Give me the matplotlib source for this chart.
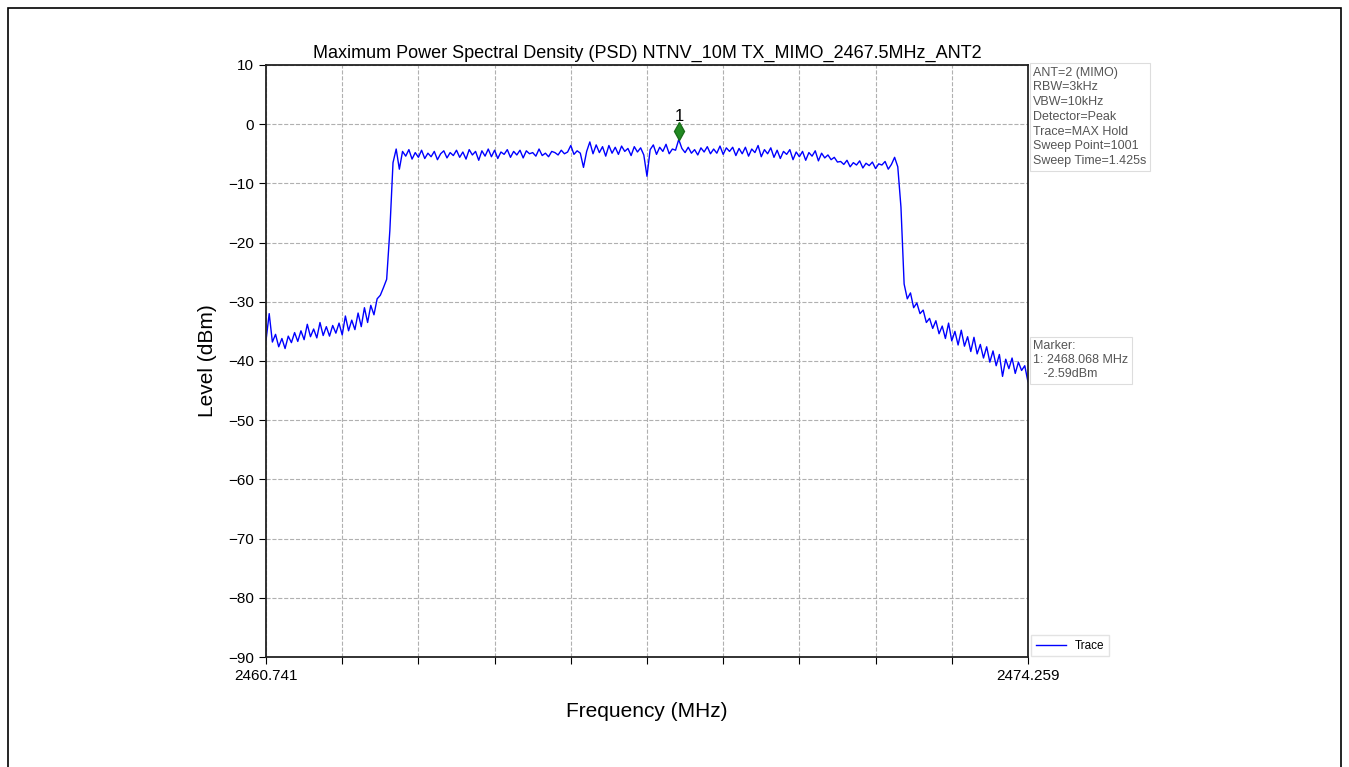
import numpy as np
import matplotlib.pyplot as plt
from matplotlib.patches import Rectangle

plt.rcParams['font.family'] = ['Liberation Sans', 'DejaVu Sans']

# Sweep span (MHz) and trace levels (dBm)
f_start = 2460.741
f_stop = 2474.259
levels = [
    # left skirt
    -36.5, -32.0, -36.8, -35.5, -37.6, -36.2, -37.9, -35.8, -36.9, -35.2,
    -36.7, -34.9, -36.4, -33.8, -35.9, -34.6, -36.1, -33.5, -35.7, -34.2,
    -35.8, -34.0, -35.3, -33.6, -35.6, -32.4, -34.9, -33.1, -34.7, -31.9,
    -34.2, -31.0, -33.5, -30.6, -32.2, -29.5, -28.9, -27.6, -26.2, -18.0,
    -6.5,
    # in-band plateau
    -4.2, -7.6, -4.6, -5.4, -4.3, -5.9, -4.8, -5.6, -4.4, -5.8,
    -4.9, -5.5, -4.6, -6.0, -5.0, -4.5, -5.7, -4.8, -5.3, -4.4,
    -5.6, -4.7, -5.9, -4.3, -5.2, -4.6, -6.1, -4.5, -5.4, -4.2,
    -5.5, -4.4, -5.8, -4.7, -5.1, -4.3, -5.6, -4.6, -5.2, -4.4,
    -5.7, -4.5, -5.0, -4.8, -5.4, -4.2, -5.3, -4.9, -5.5, -4.6,
    -4.8, -5.2, -4.4, -5.0, -4.7, -3.6, -5.1, -4.5, -4.9, -7.3,
    -4.6, -3.0, -5.0, -3.5, -4.8, -3.8, -5.4, -3.6, -4.9, -3.9,
    -5.1, -3.7, -4.6, -4.1, -5.3, -3.8, -4.7, -4.0, -5.2, -8.8,
    -4.3, -3.5, -5.1, -3.9, -4.6, -3.4, -5.0, -4.2, -4.4, -2.59,
    -4.1, -4.8, -3.9, -4.9, -4.3, -5.2, -4.0, -4.7, -3.8, -5.0,
    -4.2, -4.9, -3.7, -5.1, -4.0, -4.6, -3.9, -5.3, -4.1, -5.0,
    -3.9, -5.4, -4.2, -4.8, -3.6, -5.5, -4.3, -5.0, -4.0, -5.6,
    -4.4, -5.8, -4.6, -5.1, -4.3, -6.0, -4.7, -5.5, -4.6, -6.1,
    -4.8, -5.4, -4.5, -6.2, -4.9, -5.7, -5.2, -6.0, -5.6, -6.4,
    -6.3, -6.8, -6.1, -7.2, -6.5, -6.9, -6.2, -7.4, -6.6, -7.0,
    -6.4, -7.5, -6.7, -6.9, -6.3, -7.6, -6.8, -5.6, -7.2,
    # right skirt
    -14.0, -27.0, -29.5, -28.5, -31.0, -30.2, -32.0, -31.4, -33.5, -32.8,
    -34.5, -33.2, -35.4, -34.1, -36.2, -33.6, -36.6, -35.0, -37.3, -34.8,
    -37.5, -35.9, -38.4, -36.0, -38.8, -37.2, -39.5, -37.6, -40.2, -38.3,
    -40.8, -38.9, -42.6, -39.7, -41.3, -39.5, -42.1, -40.2, -41.6, -40.8,
    -43.5,
]
freqs = np.linspace(f_start, f_stop, len(levels))

marker_freq = 2468.068
marker_level = -2.59

info_lines = ["ANT=2 (MIMO)", "RBW=3kHz", "VBW=10kHz", "Detector=Peak",
              "Trace=MAX Hold", "Sweep Point=1001", "Sweep Time=1.425s"]
yticks = list(range(-90, 11, 10))

fig = plt.figure(figsize=(13.49, 7.67), dpi=100)
# page border
fig.patches.append(Rectangle((8 / 1349, -0.05), 1333 / 1349, 1.05 - 8 / 767,
                             transform=fig.transFigure, fill=False,
                             edgecolor="black", linewidth=1.2))

ax = fig.add_axes([0.1972, 0.1434, 0.5648, 0.7719])
ax.plot(freqs, levels, color="#0000ff", linewidth=1.0, label="Trace")
ax.plot([marker_freq], [marker_level + 1.4], marker="d", color="#228b22",
        markersize=9, markeredgecolor="#1a6e1a")
ax.text(marker_freq, marker_level + 2.6, "1", ha="center", va="bottom",
        fontsize=12)

ax.set_xlim(f_start, f_stop)
ax.set_ylim(-90, 10)
ax.set_yticks(yticks)
xt = np.linspace(f_start, f_stop, 11)
ax.set_xticks(xt)
ax.set_xticklabels([f"{f_start:.3f}"] + [""] * 9 + [f"{f_stop:.3f}"])
ax.tick_params(axis="both", direction="out", length=5, labelsize=11)
ax.grid(True, linestyle="--", color="#b0b0b0", linewidth=0.8)
for s in ax.spines.values():
    s.set_linewidth(1.3)
    s.set_color("#222222")

ax.set_title("Maximum Power Spectral Density (PSD) NTNV_10M TX_MIMO_2467.5MHz_ANT2",
             fontsize=13, pad=5)
ax.set_xlabel("Frequency (MHz)", fontsize=15, labelpad=14)
ax.set_ylabel("Level (dBm)", fontsize=15, labelpad=8)

box = dict(boxstyle="square,pad=0.3", facecolor="white", edgecolor="#dddddd",
           linewidth=0.8)
ax.text(1.007, 0.997, "\n".join(info_lines), transform=ax.transAxes,
        ha="left", va="top", fontsize=9, color="#555555", bbox=box,
        linespacing=1.3)
ax.text(1.007, 0.535, f"Marker:\n1: {marker_freq:.3f} MHz\n   {marker_level:.2f}dBm",
        transform=ax.transAxes, ha="left", va="top", fontsize=9,
        color="#555555", bbox=box, linespacing=1.2)

ax.legend(loc="lower left", bbox_to_anchor=(1.0, -0.005), fontsize=8.5,
          frameon=True, fancybox=False, edgecolor="#dddddd", handlelength=2.5,
          borderaxespad=0.3)

fig.savefig("out.png", dpi=100)
